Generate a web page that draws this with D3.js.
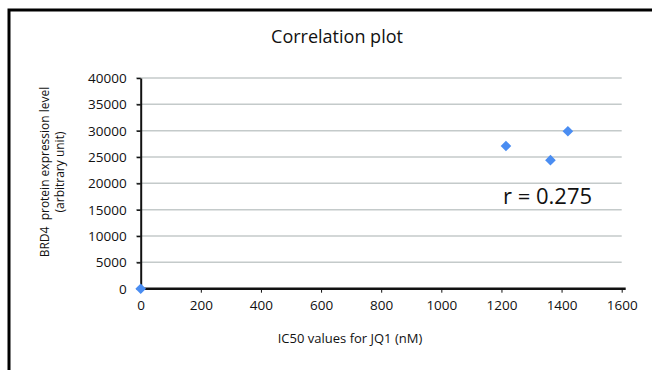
<!DOCTYPE html>
<html lang="en">
<head>
<meta charset="UTF-8">
<title>Correlation plot</title>
<script src="https://d3js.org/d3.v7.min.js"></script>
<style>
  body { margin: 0; background: #fff; }
  text { font-family: "Open Sans", "Lato", sans-serif; fill: #111; }
  .grid line { stroke: #c4caca; stroke-width: 1.5px; }
  .axis path, .axis line { stroke: #111; }
</style>
</head>
<body>
<svg width="652" height="370"></svg>
<script>
  // data
  var ic50 = [0, 1215, 1363, 1421];
  var brd4 = [0, 27100, 24400, 29900];
  var xTicks = [0, 200, 400, 600, 800, 1000, 1200, 1400, 1600];
  var yTicks = [0, 5000, 10000, 15000, 20000, 25000, 30000, 35000, 40000];

  var svg = d3.select("svg");

  // outer frame
  svg.append("rect")
      .attr("x", 9).attr("y", 10)
      .attr("width", 700).attr("height", 400)
      .attr("fill", "none")
      .attr("stroke", "#000")
      .attr("stroke-width", 3);

  var x = d3.scaleLinear().domain([0, 1600]).range([140.7, 621.7]);
  var y = d3.scaleLinear().domain([0, 40000]).range([288.7, 78]);
  var fmt = d3.format("d");

  // gridlines
  svg.append("g").attr("class", "grid")
    .selectAll("line")
    .data(yTicks.filter(function(d) { return d > 0; }))
    .enter().append("line")
      .attr("x1", 136).attr("x2", x(1600))
      .attr("y1", function(d) { return y(d); })
      .attr("y2", function(d) { return y(d); });

  // y axis
  var yAxis = svg.append("g").attr("class", "axis")
      .attr("transform", "translate(" + x(0) + ",0)")
      .call(d3.axisLeft(y).tickValues(yTicks).tickFormat(fmt).tickSize(4).tickSizeOuter(0).tickPadding(10));
  yAxis.select(".domain").attr("stroke-width", 2);
  yAxis.selectAll(".tick line").attr("stroke", "#c4caca").attr("stroke-width", 1.5);
  yAxis.selectAll("text").style("font-size", "13.5px");

  // x axis
  var xAxis = svg.append("g").attr("class", "axis")
      .attr("transform", "translate(0," + y(0) + ")")
      .call(d3.axisBottom(x).tickValues(xTicks).tickFormat(fmt).tickSize(4).tickSizeOuter(0).tickPadding(8));
  xAxis.select(".domain").attr("stroke-width", 2.5).attr("d", "M" + (x(0) - 1) + ",0H" + (x(1600) + 4));
  xAxis.selectAll(".tick line").attr("stroke", "#bbb");
  xAxis.selectAll("text").style("font-size", "13.5px");

  // points
  svg.append("g")
    .selectAll("path")
    .data(ic50)
    .enter().append("path")
      .attr("d", d3.symbol().type(d3.symbolDiamond2).size(72))
      .attr("transform", function(d, i) { return "translate(" + x(d) + "," + y(brd4[i]) + ")"; })
      .attr("fill", "#4a8df2");

  // title
  svg.append("text")
      .attr("x", 337).attr("y", 43)
      .attr("text-anchor", "middle")
      .style("font-size", "18px")
      .text("Correlation plot");

  // axis titles
  svg.append("text")
      .attr("x", 350).attr("y", 343)
      .attr("text-anchor", "middle")
      .style("font-size", "13px")
      .text("IC50 values for JQ1 (nM)");

  var yl = svg.append("text")
      .attr("transform", "translate(49,172) rotate(-90)")
      .attr("text-anchor", "middle")
      .style("font-size", "12px")
      .style("white-space", "pre");
  yl.append("tspan").attr("x", 0).attr("dy", 0).text("BRD4  protein expression level");
  yl.append("tspan").attr("x", 0).attr("dy", 15).text("(arbitrary unit)");

  // correlation label
  svg.append("text")
      .attr("x", 503).attr("y", 204)
      .style("font-size", "22px")
      .text("r = 0.275");
</script>
</body>
</html>
